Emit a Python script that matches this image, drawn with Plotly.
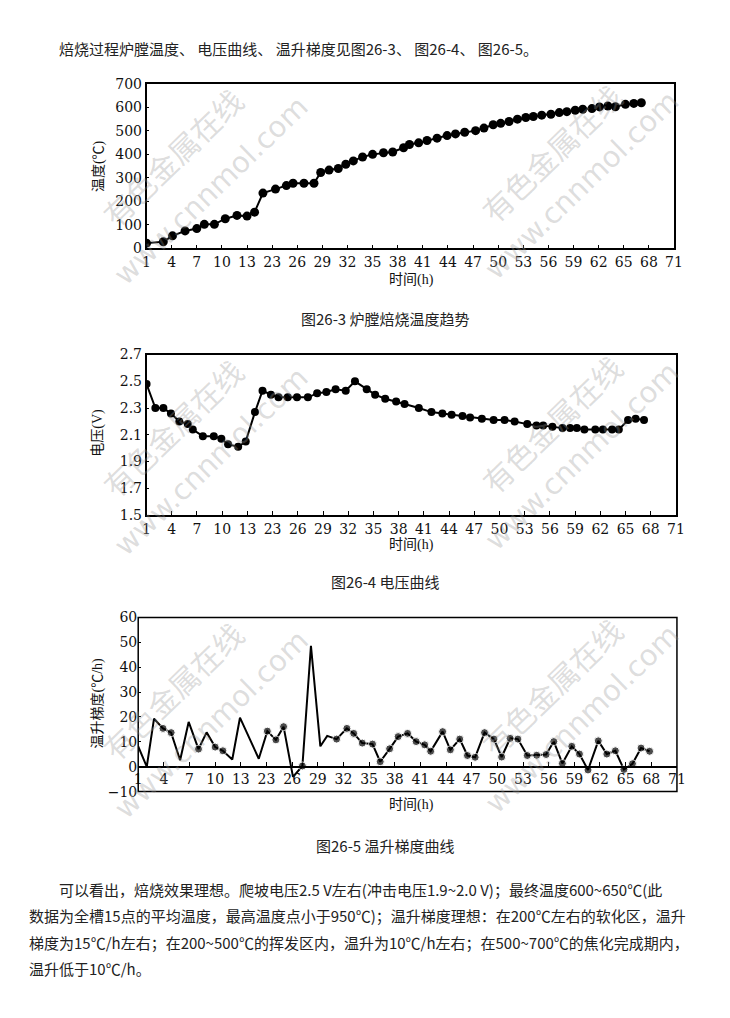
import plotly.graph_objects as go

W, H = 730, 1018

# ---------------- data ----------------
tick_pos = [1, 4, 7, 10, 13, 16, 19, 22, 25, 28, 31, 34, 37, 40, 43, 46, 49, 52, 55, 58, 61, 64]
tick_text = ["1", "4", "7", "10", "13", "23", "26", "29", "32", "35", "38", "41", "44", "47",
             "50", "53", "56", "59", "62", "65", "68", "71"]

temp_x = [1, 3.0, 4.1, 5.6, 7.0, 7.9, 9.1, 10.4, 11.8, 13.0, 13.9, 14.9, 16.4, 17.7, 18.5, 19.8,
          21.0, 21.8, 22.8, 23.9, 24.8, 25.7, 26.8, 28.0, 29.3, 30.4, 31.7, 32.4, 33.5, 34.5,
          35.7, 36.9, 37.9, 39.0, 40.3, 41.3, 42.4, 43.3, 44.3, 45.3, 46.3, 47.2, 48.2, 49.3,
          50.3, 51.2, 52.2, 53.1, 54.2, 55.1, 56.1, 57.0, 58.2, 59.2, 60.1]
temp_y = [22, 28, 53, 74, 84, 102, 102, 126, 140, 137, 154, 235, 252, 267, 277, 277,
          277, 323, 333, 340, 358, 372, 389, 400, 407, 410, 428, 442, 449, 459,
          469, 480, 487, 494, 501, 512, 526, 532, 540, 550, 557, 561, 567, 571,
          578, 582, 588, 592, 595, 602, 606, 603, 613, 617, 620]

volt_x = [1, 2.05, 3.0, 3.9, 4.9, 5.9, 6.5, 7.7, 9.0, 9.9, 10.7, 11.9, 12.8, 13.9, 14.8, 15.8,
          16.7, 17.8, 18.9, 20.2, 21.3, 22.4, 23.5, 24.7, 25.8, 27.2, 28.2, 29.4, 30.7, 31.7,
          33.4, 34.9, 36.2, 37.3, 38.6, 39.5, 40.9, 42.3, 43.6, 44.8, 46.3, 47.4, 48.2, 49.3,
          50.5, 51.4, 52.2, 53.1, 54.4, 55.3, 56.4, 57.2, 58.3, 59.2, 60.2]
volt_y = [2.48, 2.30, 2.30, 2.26, 2.20, 2.18, 2.14, 2.09, 2.09, 2.07, 2.03, 2.01, 2.05, 2.27, 2.43, 2.40,
          2.38, 2.38, 2.38, 2.38, 2.41, 2.42, 2.44, 2.43, 2.50, 2.44, 2.40, 2.37, 2.35, 2.33,
          2.30, 2.27, 2.26, 2.25, 2.24, 2.23, 2.22, 2.21, 2.21, 2.20, 2.18, 2.17, 2.17, 2.16,
          2.15, 2.15, 2.15, 2.14, 2.14, 2.14, 2.14, 2.14, 2.21, 2.22, 2.21]

grad_x = [1.0, 2.0, 2.85, 3.9, 4.85, 5.9, 6.9, 8.05, 9.0, 10.0, 10.9, 12.0, 12.9, 15.1, 16.1, 17.1,
          18.0, 19.1, 20.2, 21.2, 22.3, 23.1, 24.2, 25.4, 26.2, 27.2, 28.4, 29.3, 30.4, 31.4,
          32.5, 33.5, 34.5, 35.2, 36.6, 37.5, 38.6, 39.5, 40.4, 41.5, 42.6, 43.5, 44.5, 45.4,
          46.5, 47.6, 48.7, 49.6, 50.6, 51.7, 52.6, 53.6, 54.8, 55.8, 56.8, 57.8, 58.8, 59.8, 60.8]
grad_y = [8.2, 0, 19.3, 15.4, 13.7, 2.6, 18.0, 7.1, 13.8, 7.9, 6.4, 2.9, 19.7, 3.2, 14.3, 10.8,
          16.1, -4.1, 0.3, 48.6, 8.2, 12.4, 11.1, 15.4, 13.4, 9.5, 9.1, 2.0, 7.2, 12.1,
          13.4, 10.1, 8.8, 6.2, 14.1, 6.8, 11.1, 4.5, 3.8, 13.7, 11.1, 3.9, 11.4, 11.1,
          4.5, 4.6, 4.9, 10.1, 1.3, 8.2, 5.1, -1.3, 10.4, 5.1, 6.4, -1.1, 1.2, 7.5, 6.2]
grad_marker = [0, 0, 0, 1, 1, 0, 0, 1, 0, 1, 1, 0, 0, 0, 1, 1,
               1, 0, 1, 0, 0, 0, 1, 1, 1, 1, 1, 1, 1, 1,
               1, 1, 1, 1, 1, 1, 1, 1, 1, 1, 1, 1, 1, 1,
               1, 1, 1, 1, 1, 1, 1, 1, 1, 1, 1, 1, 1, 1, 1]

intro_text = "焙烧过程炉膛温度、 电压曲线、 温升梯度见图26-3、 图26-4、 图26-5。"
captions = ["图26-3 炉膛焙烧温度趋势", "图26-4 电压曲线", "图26-5 温升梯度曲线"]
para_lines = [
    "可以看出，焙烧效果理想。爬坡电压2.5 V左右(冲击电压1.9~2.0 V)；最终温度600~650℃(此",
    "数据为全槽15点的平均温度，最高温度点小于950℃)；温升梯度理想：在200℃左右的软化区，温升",
    "梯度为15℃/h左右；在200~500℃的挥发区内，温升为10℃/h左右；在500~700℃的焦化完成期内，",
    "温升低于10℃/h。",
]
y_titles = ["温度(℃)", "电压(V)", "温升梯度(℃/h)"]
x_title = "时间(h)"
wm_url = "www.cnnmol.com"
wm_cn = "有色金属在线"

# ---------------- helpers (page pixel -> paper) ----------------
def px(x):
    return x / W

def py(y):
    return 1 - y / H

TICKFONT = dict(family="DejaVu Serif, Liberation Serif, serif", size=14, color="#111")
CJK = "Liberation Serif, Noto Sans CJK SC, serif"
TXT = "Noto Sans CJK SC, sans-serif"

fig = go.Figure()

line_style = dict(color="black", width=2)
fig.add_trace(go.Scatter(x=temp_x, y=temp_y, mode="lines+markers", line=line_style,
                         marker=dict(size=9, color="black"), xaxis="x", yaxis="y",
                         showlegend=False, hoverinfo="skip"))
fig.add_trace(go.Scatter(x=volt_x, y=volt_y, mode="lines+markers", line=line_style,
                         marker=dict(size=8, color="black"), xaxis="x2", yaxis="y2",
                         showlegend=False, hoverinfo="skip"))
fig.add_trace(go.Scatter(x=grad_x, y=grad_y, mode="lines+markers", line=line_style,
                         marker=dict(size=[8 if m else 0 for m in grad_marker], color="black"),
                         xaxis="x3", yaxis="y3", showlegend=False, hoverinfo="skip"))

# plot boxes (page pixels)
b1 = dict(l=137, r=674, t=69, b=236)
b2 = dict(l=137, r=676, t=344, b=507)
b3 = dict(l=128.5, r=677, t=611, b=788)

def xax(b, anchor, **kw):
    d = dict(domain=[px(b["l"]), px(b["r"])], anchor=anchor, range=[1, 64],
             tickmode="array", tickvals=tick_pos, ticktext=tick_text,
             ticks="inside", ticklen=4, tickwidth=1, tickcolor="black",
             showgrid=False, zeroline=False, tickfont=TICKFONT)
    d.update(kw)
    return d

def yax(b, anchor, rng, dtick, **kw):
    d = dict(domain=[py(b["b"]), py(b["t"])], anchor=anchor, range=rng, dtick=dtick,
             tick0=rng[0], ticks="inside", ticklen=3, tickcolor="black",
             showgrid=False, zeroline=False, tickfont=TICKFONT)
    d.update(kw)
    return d

y3_rng = [-10, 60]
d3 = [py(b3["b"]), py(b3["t"])]
zero_pos = d3[0] + (0 - y3_rng[0]) / (y3_rng[1] - y3_rng[0]) * (d3[1] - d3[0])

fig.update_layout(
    width=W, height=H, margin=dict(l=0, r=0, t=0, b=0),
    paper_bgcolor="white", plot_bgcolor="white",
    xaxis=xax(b1, "y", showline=True, mirror=True, linecolor="black", linewidth=1.5),
    yaxis=yax(b1, "x", [0, 700], 100, showline=True, mirror=True, linecolor="black", linewidth=1.5),
    xaxis2=xax(b2, "y2", showline=True, mirror=True, linecolor="black", linewidth=1.5),
    yaxis2=yax(b2, "x2", [1.5, 2.7], 0.2, showline=True, mirror=True, linecolor="black",
               linewidth=1.5, tickformat=".1f"),
    xaxis3=xax(b3, "free", position=zero_pos, showline=True, linecolor="black", linewidth=1.5),
    yaxis3=yax(b3, "x3", y3_rng, 10, showline=False),
)

fig.add_shape(type="rect", xref="x3 domain", yref="y3 domain", x0=0, x1=1, y0=0, y1=1,
              line=dict(color="black", width=1.5))

ann = []
# watermarks
for top in [69, 344, 611]:
    for (cx, dy, txt, sz) in [(165, 76, wm_cn, 30), (203, 108, wm_url, 29),
                              (551, 72, wm_cn, 30), (580, 103, wm_url, 29)]:
        ann.append(dict(x=px(cx), y=py(top + dy), xref="paper", yref="paper", text=txt,
                        showarrow=False, textangle=-44, xanchor="center", yanchor="middle",
                        font=dict(family="DejaVu Sans, Noto Sans CJK SC", size=sz,
                                  color="rgba(150,150,150,0.33)")))

# axis titles
for (ty, txt) in [(152, y_titles[0]), (423, y_titles[1]), (698, y_titles[2])]:
    ann.append(dict(x=px(88), y=py(ty), xref="paper", yref="paper", text=txt, showarrow=False,
                    textangle=-90, xanchor="center", yanchor="middle",
                    font=dict(family=CJK, size=14, color="#111")))
for ty in [268, 537, 802]:
    ann.append(dict(x=px(407), y=py(ty), xref="paper", yref="paper", text=x_title,
                    showarrow=False, xanchor="center", yanchor="middle",
                    font=dict(family=CJK, size=14, color="#111")))

# intro text
ann.append(dict(x=px(46), y=py(33), xref="paper", yref="paper", text=intro_text,
                showarrow=False, xanchor="left", yanchor="middle",
                font=dict(family=TXT, size=15, color="#222")))
# captions
for (ty, txt) in zip([307, 575, 843], captions):
    ann.append(dict(x=px(380), y=py(ty), xref="paper", yref="paper", text=txt,
                    showarrow=False, xanchor="center", yanchor="middle",
                    font=dict(family=TXT, size=15, color="#222")))
# paragraph
for i, (tx, ty) in enumerate(zip([46, 15, 15, 15], [887, 914, 941, 968])):
    ann.append(dict(x=px(tx), y=py(ty), xref="paper", yref="paper", text=para_lines[i],
                    showarrow=False, xanchor="left", yanchor="middle",
                    font=dict(family=TXT, size=15, color="#222")))

fig.update_layout(annotations=ann)
fig.write_html("out.html")
